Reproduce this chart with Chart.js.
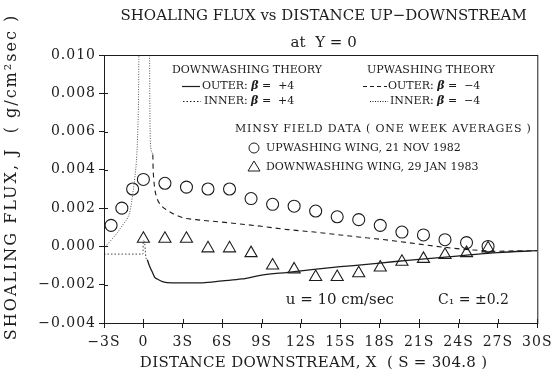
<!DOCTYPE html>
<html>
<head>
<meta charset="utf-8">
<script src="https://cdn.jsdelivr.net/npm/chart.js@4.4.1/dist/chart.umd.min.js"></script>
<style>
  html, body { margin: 0; padding: 0; background: #fff; }
  #wrap { width: 557px; height: 375px; }
</style>
</head>
<body>
<div id="wrap"><canvas id="myChart"></canvas></div>
<script>
// axis ticks (x in units of S)
const xTickValues = [-3, 0, 3, 6, 9, 12, 15, 18, 21, 24, 27, 30]
const xTickLabels = ['−3S', '0', '3S', '6S', '9S', '12S', '15S', '18S', '21S', '24S', '27S', '30S']
const yTickValues = [-0.004, -0.002, 0, 0.002, 0.004, 0.006, 0.008, 0.010]
const yTickLabels = ['−0.004', '−0.002', '0.000', '0.002', '0.004', '0.006', '0.008', '0.010']

// MINSY field data, upwashing wing (circles)
const upWingX = [-2.46, -1.64, -0.82, 0, 1.64, 3.28, 4.92, 6.56, 8.2, 9.84, 11.48, 13.12, 14.76, 16.4, 18.04, 19.69, 21.33, 22.97, 24.61, 26.25]
const upWingY = [0.0011, 0.0020, 0.0030, 0.0035, 0.0033, 0.0031, 0.0030, 0.0030, 0.0025, 0.0022, 0.0021, 0.00185, 0.00155, 0.0014, 0.0011, 0.00075, 0.0006, 0.00035, 0.0002, 0.0000]

// MINSY field data, downwashing wing (triangles)
const downWingX = [0, 1.64, 3.28, 4.92, 6.56, 8.2, 9.84, 11.48, 13.12, 14.76, 16.4, 18.04, 19.69, 21.33, 22.97, 24.61, 26.25]
const downWingY = [0.0004, 0.0004, 0.0004, -0.0001, -0.0001, -0.00035, -0.0010, -0.0012, -0.0016, -0.0016, -0.0014, -0.0011, -0.0008, -0.00065, -0.00045, -0.00035, -0.0001]

// downwashing theory, outer (solid)
const downOuterX = [0.3, 0.45, 0.65, 0.85, 1.05, 1.5, 2.2, 3, 4.5, 6, 7.5, 9, 11, 13, 15, 17, 19, 21, 23, 25, 27, 30]
const downOuterY = [-0.0007, -0.0010, -0.0013, -0.0016, -0.0017, -0.00185, -0.0019, -0.0019, -0.0019, -0.0018, -0.0017, -0.0015, -0.00135, -0.0012, -0.00106, -0.00094, -0.0008, -0.00068, -0.00056, -0.00043, -0.00032, -0.00022]

// downwashing theory, inner (dotted)
const downInnerX = [-3, -0.04, 0, 0.1, 0.14, 0.2, 0.3]
const downInnerY = [-0.0004, -0.0004, 0.0003, 0.0002, -0.0002, -0.0006, -0.0007]

// upwashing theory, outer (dashed)
const upOuterX = [0.72, 0.74, 0.78, 0.85, 0.95, 1.1, 1.4, 1.8, 2.3, 3, 4, 5.5, 7, 9, 11, 13, 15, 17, 19, 21, 23, 25, 27, 28.5, 30]
const upOuterY = [0.0048, 0.0041, 0.0036, 0.0031, 0.0027, 0.0024, 0.0021, 0.0019, 0.0017, 0.0015, 0.0014, 0.0013, 0.0012, 0.00105, 0.00088, 0.00075, 0.0006, 0.00045, 0.0003, 0.00012, -0.00005, -0.00018, -0.00025, -0.00023, -0.00022]

// upwashing theory, inner (dotted) - two branches around the singularity
const upInnerAX = [-3, -2.5, -2, -1.6, -1.2, -1.0, -0.8, -0.65, -0.5, -0.42, -0.37, -0.34]
const upInnerAY = [-0.0001, 0.0003, 0.0007, 0.0011, 0.0015, 0.0019, 0.0028, 0.0036, 0.0048, 0.0062, 0.0078, 0.0105]
const upInnerBX = [0.47, 0.49, 0.52, 0.58, 0.66, 0.72]
const upInnerBY = [0.0105, 0.0075, 0.0058, 0.0051, 0.0049, 0.0048]

const titleText = 'SHOALING FLUX vs DISTANCE UP−DOWNSTREAM'
const subtitleText = 'at  Y = 0'
const yTitle = 'SHOALING FLUX, J  ( g/cm²sec )'
const xTitle = 'DISTANCE DOWNSTREAM, X  ( S = 304.8 )'

const serif = '"DejaVu Serif", serif'
const ink = '#1c1c1c'

const pts = (xs, ys) => xs.map((x, i) => ({ x: x, y: ys[i] }))

function textRun(ctx, parts, x, y) {
    parts.forEach(([t, f]) => {
        ctx.font = f
        ctx.fillText(t, x, y)
        x += ctx.measureText(t).width
    })
}

function betaLine(ctx, head, tail, x, y) {
    const f = '11px ' + serif
    textRun(ctx, [[head, f], ['β', 'italic bold 11px ' + serif], [tail, f]], x, y)
}

// wider tick lettering, like the plotter font
const spacing = {
    id: 'spacing',
    beforeDraw(chart) {
        chart.ctx.letterSpacing = '1px'
    }
}

const frame = {
    id: 'frame',
    afterDraw(chart) {
        const ctx = chart.ctx
        const a = chart.chartArea
        const xs = chart.scales.x
        const ys = chart.scales.y
        ctx.save()
        ctx.strokeStyle = ink
        ctx.lineWidth = 1
        ctx.strokeRect(a.left + 0.5, a.top + 0.5, a.right - a.left, a.bottom - a.top)
        ctx.beginPath()
        xs.ticks.forEach(t => {
            const px = Math.round(xs.getPixelForValue(t.value)) + 0.5
            ctx.moveTo(px, a.bottom)
            ctx.lineTo(px, a.bottom - 4)
        })
        ys.ticks.forEach(t => {
            const py = Math.round(ys.getPixelForValue(t.value)) + 0.5
            ctx.moveTo(a.left, py)
            ctx.lineTo(a.left + 4, py)
        })
        ctx.stroke()
        ctx.restore()
    }
}

const paperText = {
    id: 'paperText',
    afterDraw(chart) {
        const ctx = chart.ctx
        const a = chart.chartArea
        const mid = (a.left + a.right) / 2
        ctx.save()
        ctx.fillStyle = ink
        ctx.strokeStyle = ink
        ctx.textBaseline = 'middle'
        ctx.textAlign = 'center'
        ctx.letterSpacing = '0px'
        ctx.font = '15px ' + serif
        ctx.fillText(titleText, mid + 3, 16)
        ctx.fillText(subtitleText, mid + 3, 43)

        // axis titles
        ctx.letterSpacing = '0.3px'
        ctx.fillText(xTitle, mid - 7, 363)
        ctx.save()
        ctx.translate(12, 177)
        ctx.rotate(-Math.PI / 2)
        ctx.letterSpacing = '2px'
        ctx.font = '16px ' + serif
        ctx.fillText(yTitle, 0, 0)
        ctx.restore()

        // legend
        ctx.letterSpacing = '0px'
        ctx.textAlign = 'left'
        ctx.font = '11px ' + serif
        ctx.fillText('DOWNWASHING THEORY', 172, 70)
        ctx.fillText('UPWASHING THEORY', 367, 70)
        betaLine(ctx, 'OUTER: ', ' =  +4', 202, 86)
        betaLine(ctx, 'INNER: ', ' =  +4', 204, 101)
        betaLine(ctx, 'OUTER: ', ' =  −4', 388, 86)
        betaLine(ctx, 'INNER: ', ' =  −4', 390, 101)

        ctx.lineWidth = 1.2
        ctx.beginPath()
        ctx.moveTo(182, 86.5); ctx.lineTo(200, 86.5)
        ctx.stroke()
        ctx.lineWidth = 1
        ctx.setLineDash([1.5, 2])
        ctx.beginPath()
        ctx.moveTo(183, 101.5); ctx.lineTo(201, 101.5)
        ctx.stroke()
        ctx.setLineDash([4, 3])
        ctx.beginPath()
        ctx.moveTo(363, 86.5); ctx.lineTo(387, 86.5)
        ctx.stroke()
        ctx.setLineDash([1, 1.5])
        ctx.beginPath()
        ctx.moveTo(370, 101.5); ctx.lineTo(388, 101.5)
        ctx.stroke()
        ctx.setLineDash([])

        ctx.letterSpacing = '0.8px'
        ctx.fillText('MINSY FIELD DATA ( ONE WEEK AVERAGES )', 235, 129)
        ctx.letterSpacing = '0px'
        ctx.fillText('UPWASHING WING, 21 NOV 1982', 266, 148)
        ctx.fillText('DOWNWASHING WING, 29 JAN 1983', 266, 167)
        ctx.lineWidth = 1
        ctx.beginPath()
        ctx.arc(254, 148, 5, 0, Math.PI * 2)
        ctx.stroke()
        ctx.beginPath()
        ctx.moveTo(254, 161); ctx.lineTo(260, 171); ctx.lineTo(248, 171); ctx.closePath()
        ctx.stroke()

        // conditions note
        ctx.font = '15px ' + serif
        ctx.textAlign = 'right'
        ctx.fillText('u = 10 cm/sec', 394, 300)
        ctx.textAlign = 'left'
        ctx.font = '14px ' + serif
        ctx.fillText('C₁ = ±0.2', 438, 300)
        ctx.restore()
    }
}

const lineSet = (label, xs, ys, dash, width, color) => ({
    label: label,
    data: pts(xs, ys),
    showLine: true,
    pointRadius: 0,
    borderColor: color,
    borderWidth: width,
    borderDash: dash,
    cubicInterpolationMode: 'monotone',
    fill: false,
})

const ctx = document.getElementById('myChart')

new Chart(ctx, {
    type: 'scatter',
    data: {
        datasets: [{
                label: 'UPWASHING WING, 21 NOV 1982',
                data: pts(upWingX, upWingY),
                pointStyle: 'circle',
                pointRadius: 6,
                borderColor: ink,
                borderWidth: 1.1,
                backgroundColor: 'rgba(0,0,0,0)',
            },
            {
                label: 'DOWNWASHING WING, 29 JAN 1983',
                data: pts(downWingX, downWingY),
                pointStyle: 'triangle',
                pointRadius: 7,
                borderColor: ink,
                borderWidth: 1.1,
                backgroundColor: 'rgba(0,0,0,0)',
            },
            lineSet('DOWNWASHING OUTER', downOuterX, downOuterY, [], 1.3, ink),
            lineSet('DOWNWASHING INNER', downInnerX, downInnerY, [1.5, 2], 1, '#444'),
            lineSet('UPWASHING OUTER', upOuterX, upOuterY, [5, 4], 1.1, ink),
            lineSet('UPWASHING INNER A', upInnerAX, upInnerAY, [1, 1.5], 1, '#555'),
            lineSet('UPWASHING INNER B', upInnerBX, upInnerBY, [1, 1.5], 1, '#555'),
        ],
    },
    options: {
        responsive: true,
        maintainAspectRatio: false,
        animation: false,
        layout: {
            padding: { top: 55, right: 19, bottom: 0, left: 0 },
        },
        plugins: {
            legend: { display: false },
            tooltip: { enabled: false },
        },
        scales: {
            x: {
                type: 'linear',
                min: -3,
                max: 30,
                afterBuildTicks: (s) => { s.ticks = xTickValues.map(v => ({ value: v })) },
                afterFit: (s) => { s.height = 52 },
                ticks: {
                    color: ink,
                    font: { family: serif, size: 14 },
                    padding: 6,
                    maxRotation: 0,
                    autoSkip: false,
                    callback: (v, i) => xTickLabels[i],
                },
                grid: { drawOnChartArea: false, tickLength: 5, color: ink },
                border: { color: ink, width: 1 },
            },
            y: {
                type: 'linear',
                min: -0.004,
                max: 0.010,
                afterBuildTicks: (s) => { s.ticks = yTickValues.map(v => ({ value: v })) },
                afterFit: (s) => { s.width = 104 },
                ticks: {
                    color: ink,
                    font: { family: serif, size: 14 },
                    padding: 3,
                    autoSkip: false,
                    callback: (v, i) => yTickLabels[i],
                },
                grid: { drawOnChartArea: false, tickLength: 5, color: ink },
                border: { color: ink, width: 1 },
            },
        },
    },
    plugins: [spacing, frame, paperText],
})
</script>
</body>
</html>
